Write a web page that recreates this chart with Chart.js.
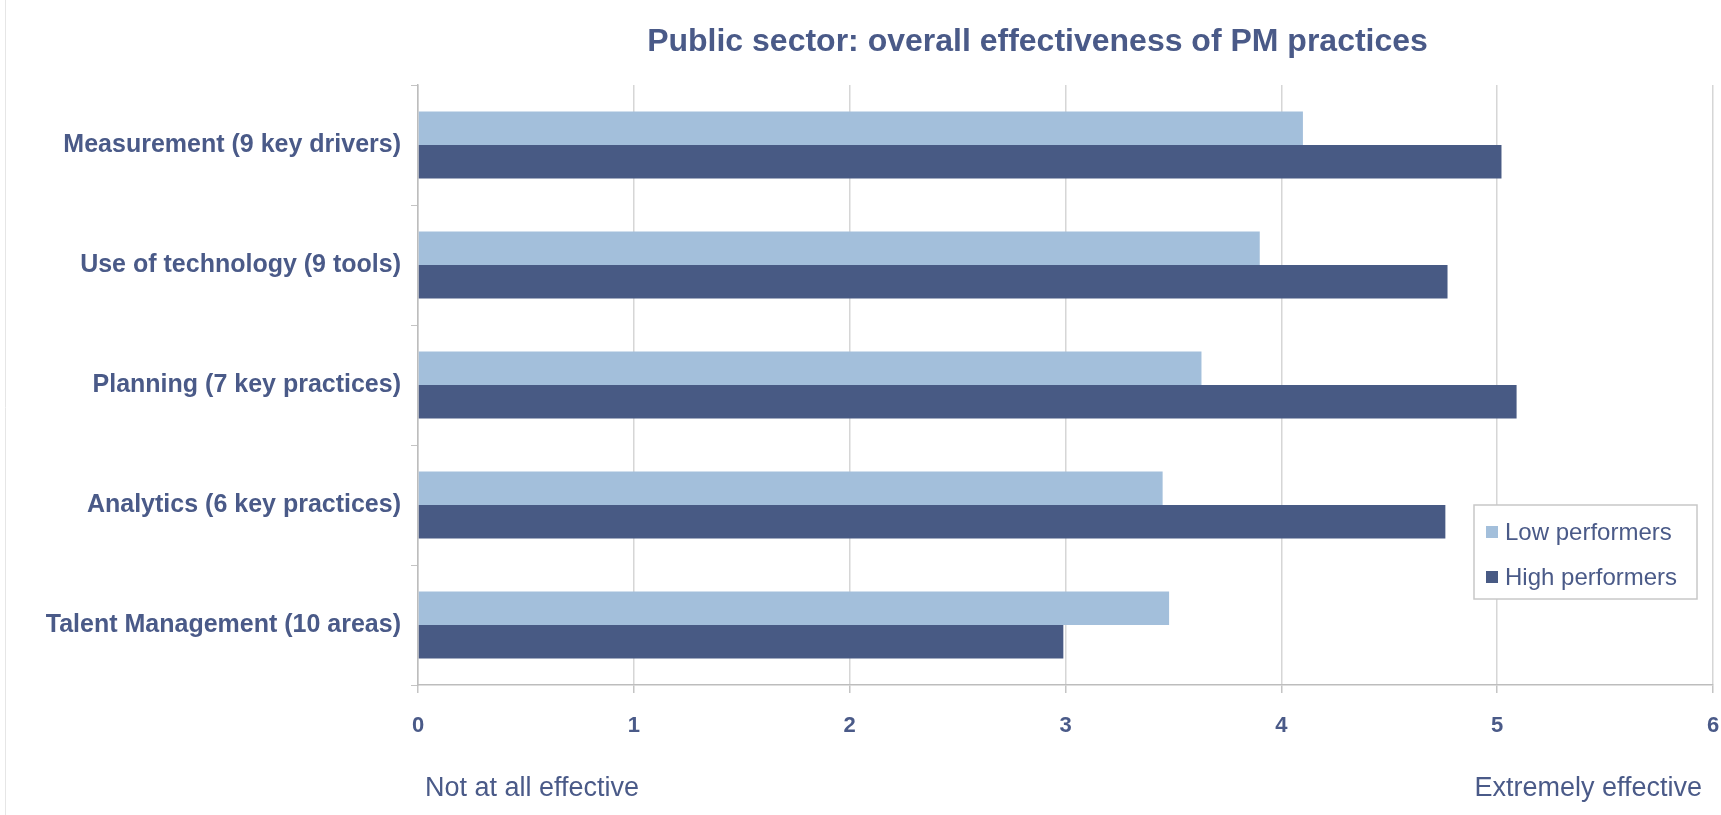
<!DOCTYPE html>
<html>
<head>
<meta charset="utf-8">
<script src="https://cdn.jsdelivr.net/npm/chart.js@4.4.1/dist/chart.umd.min.js"></script>
<style>
  html, body { margin: 0; padding: 0; background: #fff; }
  #wrap { width: 1721px; height: 815px; position: relative; }
</style>
</head>
<body>
<div id="wrap"><canvas id="pmChart"></canvas></div>
<script>
// data
const categories = [
  'Measurement (9 key drivers)',
  'Use of technology (9 tools)',
  'Planning (7 key practices)',
  'Analytics (6 key practices)',
  'Talent Management (10 areas)'
];
const lowPerformers  = [4.10, 3.90, 3.63, 3.45, 3.48];
const highPerformers = [5.02, 4.77, 5.09, 4.76, 2.99];
const xTicks = [0, 1, 2, 3, 4, 5, 6];

const titleText = 'Public sector: overall effectiveness of PM practices';
const scaleLow  = 'Not at all effective';
const scaleHigh = 'Extremely effective';

const textColor = '#4a5a88';
const lightBlue = '#a3bfdb';
const darkBlue  = '#485a84';
const gridColor = '#d6d6d6';
const FONT = '"Liberation Sans", Arial, sans-serif';

// title, scale captions and boxed legend
const extras = {
  id: 'extras',
  beforeDraw(chart) {
    const ctx = chart.ctx;
    ctx.save();
    ctx.strokeStyle = '#e6e6e6';
    ctx.lineWidth = 1;
    ctx.beginPath();
    ctx.moveTo(5.5, 0);
    ctx.lineTo(5.5, chart.height);
    ctx.stroke();
    ctx.restore();
  },
  afterDraw(chart) {
    const ctx = chart.ctx;
    const a = chart.chartArea;
    ctx.save();
    ctx.fillStyle = textColor;
    ctx.textBaseline = 'middle';

    ctx.font = 'bold 32px ' + FONT;
    ctx.textAlign = 'center';
    ctx.fillText(titleText, (a.left + a.right) / 2 - 28, 42);

    ctx.font = '27px ' + FONT;
    ctx.textAlign = 'left';
    ctx.fillText(scaleLow, a.left + 7, 789);
    ctx.textAlign = 'right';
    ctx.fillText(scaleHigh, a.right - 11, 789);

    // legend
    const bx = a.right - 239, by = a.top + 420, bw = 223, bh = 94;
    ctx.fillStyle = '#fff';
    ctx.fillRect(bx, by, bw, bh);
    ctx.strokeStyle = '#c8c8c8';
    ctx.lineWidth = 1.5;
    ctx.strokeRect(bx, by, bw, bh);
    ctx.font = '24px ' + FONT;
    ctx.textAlign = 'left';
    chart.data.datasets.forEach((ds, i) => {
      const cy = by + 27 + i * 45;
      ctx.fillStyle = ds.backgroundColor;
      ctx.fillRect(bx + 12, cy - 6, 12, 12);
      ctx.fillStyle = textColor;
      ctx.fillText(ds.label, bx + 31, cy + 1);
    });
    ctx.restore();
  }
};

new Chart(document.getElementById('pmChart'), {
  type: 'bar',
  data: {
    labels: categories,
    datasets: [
      { label: 'Low performers',  data: lowPerformers,  backgroundColor: lightBlue },
      { label: 'High performers', data: highPerformers, backgroundColor: darkBlue }
    ]
  },
  options: {
    indexAxis: 'y',
    responsive: true,
    maintainAspectRatio: false,
    animation: false,
    layout: { padding: { top: 85, right: 8, left: 0, bottom: 0 } },
    datasets: { bar: { categoryPercentage: 0.56, barPercentage: 1.0 } },
    plugins: {
      legend: { display: false },
      title: { display: false },
      tooltip: { enabled: false }
    },
    scales: {
      x: {
        min: 0,
        max: 6,
        afterFit(scale) {
          scale.height = 130;
          scale.paddingLeft = 0;
          scale.paddingRight = 0;
        },
        afterBuildTicks(scale) { scale.ticks = xTicks.map(v => ({ value: v })); },
        grid: { color: gridColor, lineWidth: 1.5, tickLength: 8, tickColor: '#c4c4c4' },
        border: { color: '#bdbdbd', width: 1.5 },
        ticks: {
          color: textColor,
          padding: 20,
          font: { family: FONT, size: 22, weight: 'bold' }
        }
      },
      y: {
        afterFit(scale) { scale.width = 418; },
        grid: { drawOnChartArea: false, drawTicks: true, tickLength: 7, tickColor: '#c4c4c4', offset: true },
        border: { color: '#bdbdbd', width: 1.5 },
        ticks: {
          color: textColor,
          padding: 10,
          font: { family: FONT, size: 25, weight: 'bold' }
        }
      }
    }
  },
  plugins: [extras]
});
</script>
</body>
</html>
